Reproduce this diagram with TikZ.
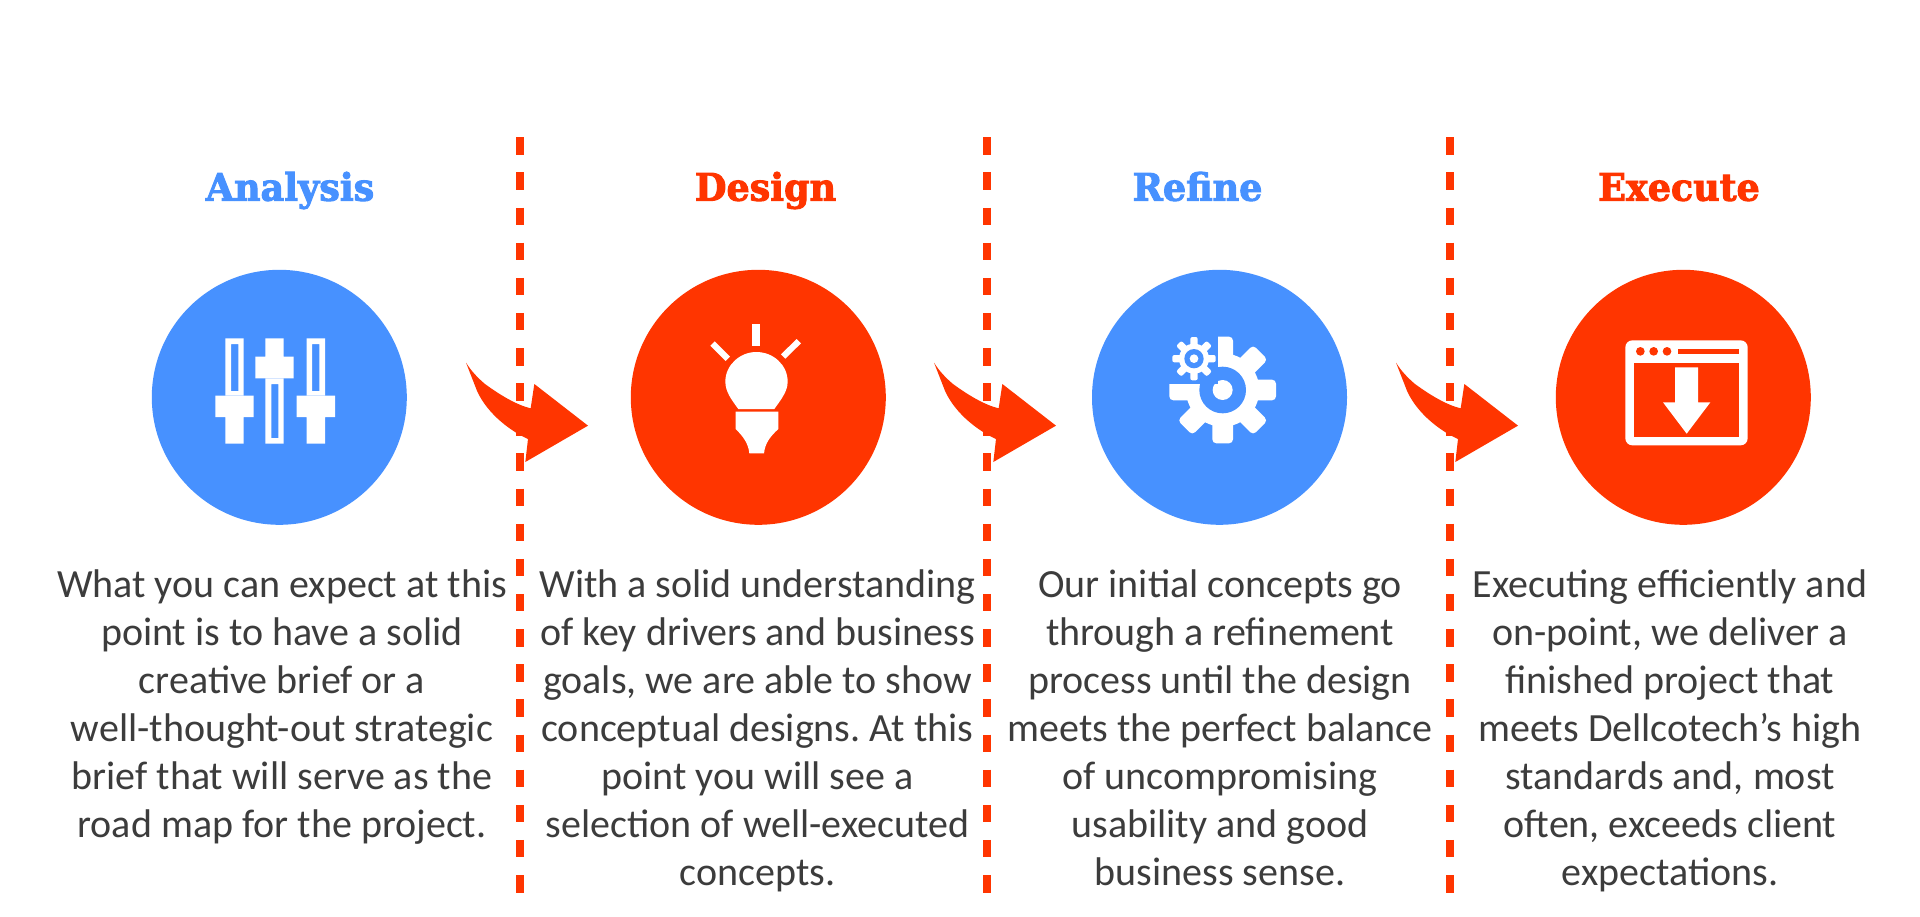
\documentclass[tikz,border=0pt]{standalone}
\usepackage{fontspec}
\setmainfont{Carlito}
\newfontface\headfont{DejaVu Serif Bold}[FakeStretch=0.96,FakeBold=2.5]
\definecolor{accentblue}{HTML}{4791FF}
\definecolor{accentred}{HTML}{FF3500}
\definecolor{bodygrey}{HTML}{3C3C3C}
\tikzset{
  disc/.style={circle,inner sep=0pt,minimum size=255pt,fill=#1},
  heading/.style={inner sep=0pt,anchor=base,text=#1,font=\headfont\fontsize{38}{44}\selectfont},
  bodytext/.style={inner sep=0pt,anchor=north,align=center,text=bodygrey,font=\frenchspacing\fontsize{40}{48}\selectfont},
  separator/.style={accentred,line width=8pt,dash pattern=on 17.5pt off 17.63pt},
  icon/.style={fill=white},
}
\newcommand{\sweeparrow}[1]{%
  \fill[accentred,shift={(#1,340)},scale=1/3]
    (48,68) .. controls (65,95) and (85,115) .. (105,132)
    .. controls (150,165) and (200,195) .. (242,205)
    -- (253,132) -- (414,257) -- (226,366) -- (234,297)
    .. controls (185,275) and (115,225) .. (82,155) -- cycle;}
\begin{document}
\begin{tikzpicture}[x=1pt,y=-1pt]
\useasboundingbox (0,0) rectangle (1920,916);
\fill[white] (0,0) rectangle (1920,916);

% separators
\foreach \n/\xx in {1/519.7,2/986.7,3/1449.7}{
  \coordinate (top\n) at (\xx,137.3);
  \coordinate (bot\n) at (\xx,893);
  \draw[separator] (top\n) -- (bot\n);
}

% arrows
\sweeparrow{450}
\sweeparrow{918}
\sweeparrow{1380}

% discs
\node[disc=accentblue] (c1) at (279.3,397.3) {};
\node[disc=accentred]  (c2) at (758.3,397.3) {};
\node[disc=accentblue] (c3) at (1219.5,397.3) {};
\node[disc=accentred]  (c4) at (1683.3,397.3) {};

% sliders icon
\begin{scope}[shift={(150,260)},scale=1/3]
  \fill[icon,even odd rule] (226,235) rectangle (281,407) (243,252) rectangle (265,393);
  \fill[icon] (196,407) rectangle (311,471) (226,471) rectangle (281,551);
  \fill[icon] (346,235) rectangle (401,290) (316,290) rectangle (431,355);
  \fill[icon,even odd rule] (346,355) rectangle (401,551) (364,372) rectangle (385,534);
  \fill[icon,even odd rule] (470,235) rectangle (525,407) (486,252) rectangle (508,393);
  \fill[icon] (440,407) rectangle (555,471) (470,471) rectangle (525,551);
\end{scope}

% bulb icon
\begin{scope}[shift={(630,260)},scale=1/3]
  \fill[icon] (367,192) rectangle (389,258);
  \fill[icon] (254,244) -- (300,290) -- (287,303) -- (241,257) -- cycle;
  \fill[icon] (500,237) -- (513,250) -- (466,296) -- (453,283) -- cycle;
  \fill[icon] (325,447) .. controls (305,420) and (286,395) .. (286,365)
    .. controls (286,315) and (330,276) .. (379,276)
    .. controls (430,276) and (473,315) .. (473,365)
    .. controls (473,395) and (452,420) .. (433,447) -- cycle;
  \fill[icon] (317,455) -- (445,455) -- (445,507)
    .. controls (420,530) and (405,550) .. (402,580) -- (358,580)
    .. controls (355,550) and (340,530) .. (317,507) -- cycle;
\end{scope}

% gears icon
\begin{scope}[shift={(1090,260)},scale=1/3]
  \fill[icon] (398,390) circle (110);
  \foreach \a in {0,45,...,315}{
    \fill[icon,rounded corners=4pt,shift={(398,390)},rotate=\a] (-31,0) rectangle (31,-160);
  }
  \fill[accentblue] (398,390) circle (70);
  \fill[icon] (398,390) circle (30);
  \fill[accentblue] (225,215) rectangle (385,372);
  \fill[icon] (312,296) circle (45);
  \foreach \a in {0,45,...,315}{
    \fill[icon,rounded corners=2pt,shift={(312,296)},rotate=\a] (-11,0) rectangle (11,-65);
  }
  \fill[accentblue] (312,296) circle (29);
  \fill[icon] (312,296) circle (13);
\end{scope}

% window icon
\begin{scope}[shift={(1550,260)},scale=1/3]
  \fill[icon,rounded corners=7pt] (226,241) rectangle (593,556);
  \fill[accentred] (251,308) rectangle (568,531);
  \fill[accentred] (271,274) circle (13) (311,274) circle (13) (351,274) circle (13);
  \fill[accentred] (383,267) rectangle (568,282);
  \fill[icon] (375,322) -- (444,322) -- (444,427) -- (481,427) -- (410,521) -- (339,427) -- (375,427) -- cycle;
\end{scope}

% headings
\node[heading=accentblue] (h1) at (290,200.7) {Analysis};
\node[heading=accentred]  (h2) at (765.5,200.7) {Design};
\node[heading=accentblue] (h3) at (1197.5,200.7) {Refine};
\node[heading=accentred]  (h4) at (1679,200.7) {Execute};

% body
\node[bodytext] (t1) at (282,563.4) {\strut What you can expect at this\\point is to have a solid\\creative brief or a\\well-thought-out strategic\\brief that will serve as the\\road map for the project.};
\node[bodytext] (t2) at (757.5,563.4) {\strut With a solid understanding\\of key drivers and business\\goals, we are able to show\\conceptual designs. At this\\point you will see a\\selection of well-executed\\concepts.};
\node[bodytext] (t3) at (1220,563.4) {\strut Our initial concepts go\\through a refinement\\process until the design\\meets the perfect balance\\of uncompromising\\usability and good\\business sense.};
\node[bodytext] (t4) at (1670,563.4) {\strut Executing efficiently and\\on-point, we deliver a\\finished project that\\meets Dellcotech’s high\\standards and, most\\often, exceeds client\\expectations.};
\end{tikzpicture}
\end{document}
